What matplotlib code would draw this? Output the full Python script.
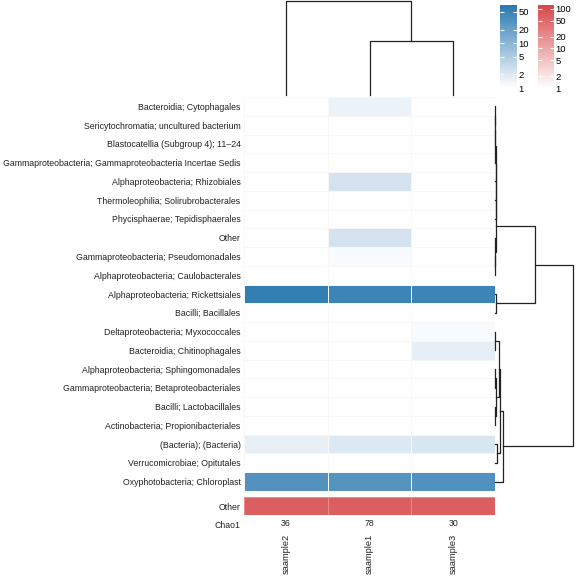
import matplotlib
matplotlib.use("Agg")
import matplotlib.pyplot as plt
import numpy as np
from matplotlib.colors import LinearSegmentedColormap, LogNorm
from matplotlib.cm import ScalarMappable

plt.rcParams['font.family'] = ['Liberation Sans', 'DejaVu Sans']

samples = ["saample2", "saample1", "saample3"]
chao1 = [36, 78, 30]

taxa = [
    "Bacteroidia; Cytophagales",
    "Sericytochromatia; uncultured bacterium",
    "Blastocatellia (Subgroup 4); 11\u201324",
    "Gammaproteobacteria; Gammaproteobacteria Incertae Sedis",
    "Alphaproteobacteria; Rhizobiales",
    "Thermoleophilia; Solirubrobacterales",
    "Phycisphaerae; Tepidisphaerales",
    "Other",
    "Gammaproteobacteria; Pseudomonadales",
    "Alphaproteobacteria; Caulobacterales",
    "Alphaproteobacteria; Rickettsiales",
    "Bacilli; Bacillales",
    "Deltaproteobacteria; Myxococcales",
    "Bacteroidia; Chitinophagales",
    "Alphaproteobacteria; Sphingomonadales",
    "Gammaproteobacteria; Betaproteobacteriales",
    "Bacilli; Lactobacillales",
    "Actinobacteria; Propionibacteriales",
    "(Bacteria); (Bacteria)",
    "Verrucomicrobiae; Opitutales",
    "Oxyphotobacteria; Chloroplast",
]

# abundance per taxon, columns in the order of `samples`
abund = [
    [0, 1.5, 0],
    [0, 0, 0],
    [0, 0, 0],
    [0, 0, 0],
    [0, 2.4, 0],
    [0, 0, 0],
    [0, 0, 0],
    [0, 2.4, 0],
    [0, 1.15, 0],
    [0, 0, 0],
    [58, 47, 48],
    [0, 0, 0],
    [0, 0, 1.15],
    [0, 0, 1.7],
    [0, 0, 0],
    [0, 0, 0],
    [0, 0, 0],
    [0, 0, 0],
    [1.6, 2.0, 2.2],
    [0, 0, 0],
    [31, 29, 32],
]
other_row = [68, 68, 68]

# linkage tables: (left, right, height); ids >= n refer to earlier merges
row_links = [
    (0, 1, 0.004), (21, 2, 0.005), (22, 3, 0.006), (23, 4, 0.007),
    (24, 5, 0.008), (25, 6, 0.009), (8, 9, 0.004), (7, 27, 0.006),
    (26, 28, 0.015), (10, 11, 0.012), (29, 30, 0.51),
    (12, 13, 0.005), (14, 15, 0.005), (16, 17, 0.006), (33, 34, 0.01),
    (32, 35, 0.045), (18, 19, 0.02), (36, 37, 0.064), (38, 20, 0.106),
    (31, 39, 1.0),
]
col_links = [(1, 2, 0.574), (0, 3, 1.0)]

blue_ticks = [1, 2, 5, 10, 20, 50]
red_ticks = [1, 2, 5, 10, 20, 50, 100]


def dendro_segments(links, n):
    pos = {i: i + 0.5 for i in range(n)}
    hgt = {i: 0.0 for i in range(n)}
    segs = []
    for k, (a, b, h) in enumerate(links):
        segs.append(([pos[a], pos[a], pos[b], pos[b]], [hgt[a], h, h, hgt[b]]))
        pos[n + k] = (pos[a] + pos[b]) / 2
        hgt[n + k] = h
    return segs


W, H = 579, 576
fig = plt.figure(figsize=(W / 100, H / 100), dpi=100)


def box(x0, y0, x1, y1):
    return [x0 / W, 1 - y1 / H, (x1 - x0) / W, (y1 - y0) / H]


blue_cmap = LinearSegmentedColormap.from_list("b", ["#ffffff", "#2a78b0"])
blue_cmap.set_bad("white")
red_cmap = LinearSegmentedColormap.from_list("r", ["#ffffff", "#d6474a"])
red_cmap.set_bad("white")
blue_norm = LogNorm(vmin=1, vmax=70.6)
red_norm = LogNorm(vmin=1, vmax=126)

hx0, hx1 = 244, 495
# main heatmap
ax = fig.add_axes(box(hx0, 97, hx1, 491))
vals = np.array(abund, dtype=float)
ax.pcolormesh(np.ma.masked_where(vals <= 0, vals), cmap=blue_cmap, norm=blue_norm,
              edgecolors="#f7f7f7", linewidth=0.5)
ax.set_xlim(0, 3)
ax.set_ylim(len(taxa), 0)
ax.set_yticks(np.arange(len(taxa)) + 0.5)
ax.set_yticklabels(taxa, fontsize=6.3, color="#222222")
ax.set_xticks([])
ax.tick_params(axis="y", length=0, pad=2.5)
for s in ax.spines.values():
    s.set_visible(False)

# "Other" row
ax2 = fig.add_axes(box(hx0, 497, hx1, 515))
ax2.pcolormesh(np.array([other_row], dtype=float), cmap=red_cmap, norm=red_norm,
               edgecolors="#f08a8a", linewidth=0.5)
ax2.set_xlim(0, 3)
ax2.set_ylim(1, 0)
ax2.set_yticks([0.5])
ax2.set_yticklabels(["Other"], fontsize=6.3, color="#222222")
ax2.set_xticks([])
ax2.tick_params(axis="y", length=0, pad=2.5)
for s in ax2.spines.values():
    s.set_visible(False)

# Chao1 row and sample names
ax3 = fig.add_axes(box(hx0, 517, hx1, 531))
ax3.set_xlim(0, 3)
ax3.set_ylim(1, 0)
for i, v in enumerate(chao1):
    ax3.text(i + 0.5, 0.5, str(v), ha="center", va="center", fontsize=6.3, color="#222222")
ax3.set_yticks([0.5])
ax3.set_yticklabels(["Chao1"], fontsize=6.3, color="#222222")
ax3.set_xticks(np.arange(3) + 0.5)
ax3.set_xticklabels(samples, rotation=90, fontsize=6.7, color="#222222")
ax3.tick_params(length=0, pad=2)
ax3.tick_params(axis="y", pad=2.5)
for s in ax3.spines.values():
    s.set_visible(False)

# column dendrogram
axc = fig.add_axes(box(hx0, 1, hx1, 95))
for xs, ys in dendro_segments(col_links, len(samples)):
    axc.plot(xs, ys, color="#222222", lw=0.9, clip_on=False)
axc.set_xlim(0, 3)
axc.set_ylim(0, 1)
axc.axis("off")

# row dendrogram
axr = fig.add_axes(box(hx1, 97, 573, 491))
for ys, xs in dendro_segments(row_links, len(taxa)):
    axr.plot(xs, ys, color="#222222", lw=0.9, clip_on=False)
axr.set_ylim(len(taxa), 0)
axr.set_xlim(0, 1)
axr.axis("off")

# legends
for (x0, x1), cmap, norm, ticks in [((500, 516.5), blue_cmap, blue_norm, blue_ticks),
                                     ((538, 553.5), red_cmap, red_norm, red_ticks)]:
    cax = fig.add_axes(box(x0, 5, x1, 88))
    cb = fig.colorbar(ScalarMappable(norm=norm, cmap=cmap), cax=cax)
    cb.outline.set_visible(False)
    cb.set_ticks(ticks)
    cb.set_ticklabels([str(t) for t in ticks])
    cb.minorticks_off()
    cax.tick_params(direction="in", color="white", length=3, width=0.8,
                    left=True, right=True, labelsize=6.8, pad=1.5)

fig.savefig("out.png", dpi=100)
